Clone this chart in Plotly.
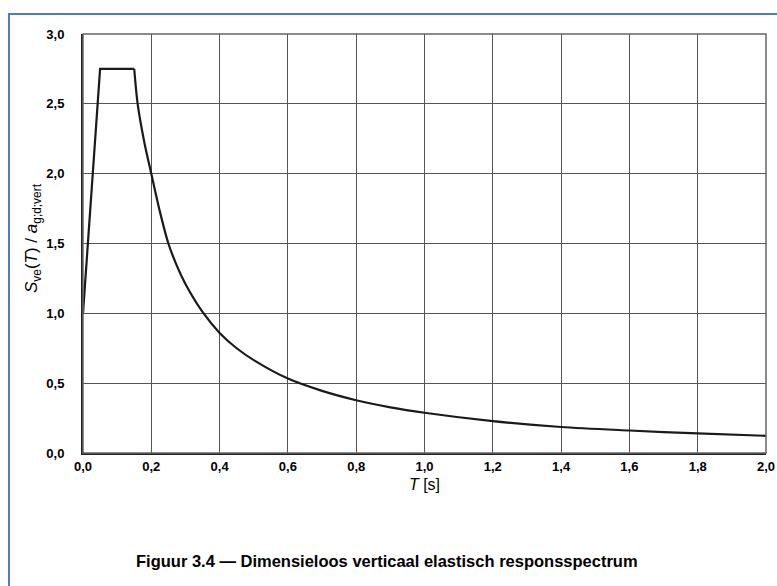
import plotly.graph_objects as go

# values
ramp_t = [0.0, 0.05, 0.15]
ramp_s = [1.0, 2.75, 2.75]

decay_t = [0.15, 0.16, 0.18, 0.20, 0.225, 0.25, 0.275, 0.30, 0.35, 0.40, 0.45, 0.50,
           0.60, 0.70, 0.80, 0.90, 1.0, 1.2, 1.4, 1.6, 1.8, 2.0]
decay_s = [2.75, 2.50, 2.22, 2.0, 1.73, 1.50, 1.34, 1.21, 1.01, 0.86, 0.75, 0.665,
           0.533, 0.445, 0.378, 0.327, 0.288, 0.228, 0.186, 0.161, 0.140, 0.123]

x_ticks = [0.0, 0.2, 0.4, 0.6, 0.8, 1.0, 1.2, 1.4, 1.6, 1.8, 2.0]
y_ticks = [0.0, 0.5, 1.0, 1.5, 2.0, 2.5, 3.0]

font = "Liberation Sans, Arial, sans-serif"
line_style = dict(color="#1a1a1a", width=2.2)

fig = go.Figure()
fig.add_trace(go.Scatter(x=ramp_t, y=ramp_s, mode="lines", line=line_style, showlegend=False))
fig.add_trace(go.Scatter(x=decay_t, y=decay_s, mode="lines",
                         line=dict(line_style, shape="spline", smoothing=0.8),
                         showlegend=False))

fig.update_layout(
    width=777, height=586,
    margin=dict(l=83, r=11, t=34, b=133, autoexpand=False),
    plot_bgcolor="white", paper_bgcolor="white",
    separators=",.",
    font=dict(family=font, color="black"),
    xaxis=dict(range=[0, 2.0], tickvals=x_ticks, tickformat=".1f",
               showgrid=True, gridcolor="#555555", gridwidth=1,
               showline=True, linecolor="#222222", linewidth=2,
               ticks="", tickfont=dict(size=13, weight="bold"),
               title=dict(text="<i>T</i> [s]", font=dict(size=16), standoff=6),
               zeroline=False),
    yaxis=dict(range=[0, 3.0], tickvals=y_ticks, tickformat=".1f",
               showgrid=True, gridcolor="#555555", gridwidth=1,
               showline=True, linecolor="#222222", linewidth=2,
               ticks="", tickfont=dict(size=13, weight="bold"),
               ticklabelstandoff=14, zeroline=False),
)

# frame around the plot area (top and right edges)
fig.add_shape(type="rect", xref="paper", yref="paper", x0=0, x1=1, y0=0, y1=1,
              line=dict(color="#666666", width=1.5), layer="above")

# blue border round the whole figure
fig.add_shape(type="rect", xref="paper", yref="paper",
              x0=-74 / 683, x1=1.2, y0=-0.5, y1=1 + 20 / 419,
              line=dict(color="#4a7bd0", width=2))

fig.add_annotation(text="<i>S</i><sub>ve</sub>(<i>T</i>) / <i>a</i><sub>g;d;vert</sub>",
                   xref="paper", yref="paper", x=-50 / 683, y=(453 - 238) / 419,
                   textangle=-90, showarrow=False, font=dict(size=17),
                   xanchor="center", yanchor="middle")

fig.add_annotation(text="<b>Figuur 3.4 — Dimensieloos verticaal elastisch responsspectrum</b>",
                   xref="paper", yref="paper", x=(387 - 83) / 683, y=-(561 - 453) / 419,
                   showarrow=False, font=dict(size=16.5),
                   xanchor="center", yanchor="middle")

# drop the default body margin so the figure fills the window exactly
fig.write_html("out.html", config={"displayModeBar": False},
               post_script="document.body.style.margin='0';document.body.style.overflow='hidden';")
